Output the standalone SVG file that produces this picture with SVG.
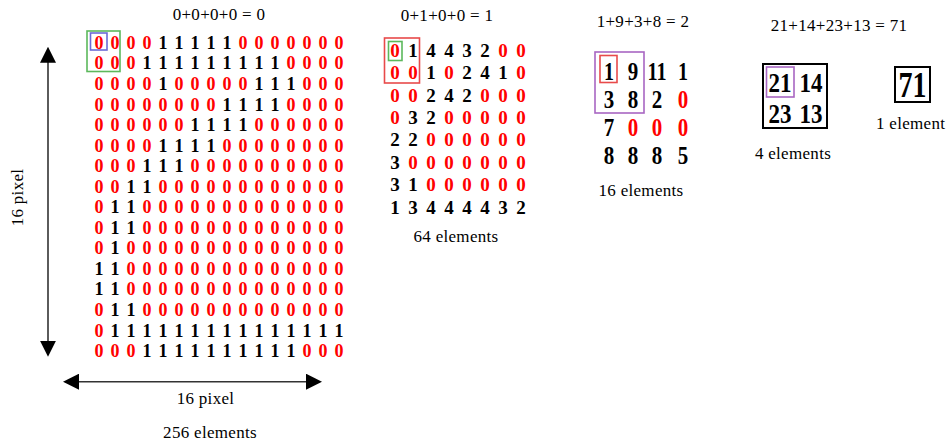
<svg xmlns="http://www.w3.org/2000/svg" width="947" height="444" viewBox="0 0 947 444">
<style>
text{font-family:"Liberation Serif","Times New Roman",serif}
.lbl{font-size:17px;fill:#000;text-anchor:middle;letter-spacing:0.3px}
.d16{font-size:18px;font-weight:bold;text-anchor:middle}
.d8{font-size:19px;font-weight:bold;text-anchor:middle}
.d4{font-size:25px;font-weight:bold;text-anchor:middle}
.d2{font-size:27px;font-weight:bold;text-anchor:middle}
.z{fill:#ff0000}
.o{fill:#000}
.box{fill:none;stroke-width:1.6}
.blue{stroke:#6b6bd6}
.green{stroke:#5cb85c}
.red{stroke:#e84a4a}
.purple{stroke:#a866c2}
.blk{fill:none;stroke:#000;stroke-width:2}
.arr{stroke:#333;stroke-width:1.6;fill:none}
</style>
<defs>
<marker id="ah" viewBox="0 0 16 16" refX="14" refY="8" markerWidth="16" markerHeight="16" markerUnits="userSpaceOnUse" orient="auto-start-reverse">
<path d="M0,0 L16,8 L0,16 z" fill="#000"/>
</marker>
</defs>

<g id="connectors">
<line class="arr" x1="48" y1="48.7" x2="48" y2="354.7" marker-start="url(#ah)" marker-end="url(#ah)"/>
<line class="arr" x1="65" y1="381.7" x2="320" y2="381.7" marker-start="url(#ah)" marker-end="url(#ah)"/>
</g>

<g id="labels16">
<text class="lbl" x="219" y="20">0+0+0+0 = 0</text>
<text class="lbl" transform="translate(23,197.5) rotate(-90)" x="0" y="0">16 pixel</text>
<text class="lbl" x="205.5" y="404">16 pixel</text>
<text class="lbl" x="210" y="438">256 elements</text>
</g>

<g id="grid16">
<rect class="box green" x="87" y="31" width="33" height="40.5"/>
<rect class="box blue" x="90.5" y="33" width="16.5" height="17"/>
<text class="d16" y="48.8"><tspan class="z" x="99 115 131 147">0000</tspan><tspan class="o" x="163 179 195 211 227">11111</tspan><tspan class="z" x="243 259 275 291 307 323 339">0000000</tspan></text>
<text class="d16" y="69.4"><tspan class="z" x="99 115 131">000</tspan><tspan class="o" x="147 163 179 195 211 227 243 259 275">111111111</tspan><tspan class="z" x="291 307 323 339">0000</tspan></text>
<text class="d16" y="89.9"><tspan class="z" x="99 115 131 147">0000</tspan><tspan class="o" x="163">1</tspan><tspan class="z" x="179 195 211 227 243">00000</tspan><tspan class="o" x="259 275 291">111</tspan><tspan class="z" x="307 323 339">000</tspan></text>
<text class="d16" y="110.5"><tspan class="z" x="99 115 131 147 163 179 195 211">00000000</tspan><tspan class="o" x="227 243 259 275">1111</tspan><tspan class="z" x="291 307 323 339">0000</tspan></text>
<text class="d16" y="131"><tspan class="z" x="99 115 131 147 163 179">000000</tspan><tspan class="o" x="195 211 227 243">1111</tspan><tspan class="z" x="259 275 291 307 323 339">000000</tspan></text>
<text class="d16" y="151.6"><tspan class="z" x="99 115 131 147">0000</tspan><tspan class="o" x="163 179 195 211">1111</tspan><tspan class="z" x="227 243 259 275 291 307 323 339">00000000</tspan></text>
<text class="d16" y="172.1"><tspan class="z" x="99 115 131">000</tspan><tspan class="o" x="147 163 179">111</tspan><tspan class="z" x="195 211 227 243 259 275 291 307 323 339">0000000000</tspan></text>
<text class="d16" y="192.7"><tspan class="z" x="99 115">00</tspan><tspan class="o" x="131 147">11</tspan><tspan class="z" x="163 179 195 211 227 243 259 275 291 307 323 339">000000000000</tspan></text>
<text class="d16" y="213.2"><tspan class="z" x="99">0</tspan><tspan class="o" x="115 131">11</tspan><tspan class="z" x="147 163 179 195 211 227 243 259 275 291 307 323 339">0000000000000</tspan></text>
<text class="d16" y="233.8"><tspan class="z" x="99">0</tspan><tspan class="o" x="115 131">11</tspan><tspan class="z" x="147 163 179 195 211 227 243 259 275 291 307 323 339">0000000000000</tspan></text>
<text class="d16" y="254.3"><tspan class="z" x="99">0</tspan><tspan class="o" x="115">1</tspan><tspan class="z" x="131 147 163 179 195 211 227 243 259 275 291 307 323 339">00000000000000</tspan></text>
<text class="d16" y="274.9"><tspan class="o" x="99 115">11</tspan><tspan class="z" x="131 147 163 179 195 211 227 243 259 275 291 307 323 339">00000000000000</tspan></text>
<text class="d16" y="295.4"><tspan class="o" x="99 115">11</tspan><tspan class="z" x="131 147 163 179 195 211 227 243 259 275 291 307 323 339">00000000000000</tspan></text>
<text class="d16" y="316"><tspan class="z" x="99">0</tspan><tspan class="o" x="115 131">11</tspan><tspan class="z" x="147 163 179 195 211 227 243 259 275 291 307 323 339">0000000000000</tspan></text>
<text class="d16" y="336.5"><tspan class="z" x="99">0</tspan><tspan class="o" x="115 131 147 163 179 195 211 227 243 259 275 291 307 323 339">111111111111111</tspan></text>
<text class="d16" y="357.1"><tspan class="z" x="99 115 131">000</tspan><tspan class="o" x="147 163 179 195 211 227 243 259 275 291">1111111111</tspan><tspan class="z" x="307 323 339">000</tspan></text>
</g>

<g id="grid8">
<text class="lbl" x="447" y="21">0+1+0+0 = 1</text>
<rect class="box red" x="384.5" y="38" width="35" height="45"/>
<rect class="box green" x="388.5" y="41.5" width="13.5" height="19"/>
<text class="d8" y="56.8"><tspan class="z" x="395">0</tspan><tspan class="o" x="413 431 449 467 485">14432</tspan><tspan class="z" x="503 521">00</tspan></text>
<text class="d8" y="79.2"><tspan class="z" x="395 413">00</tspan><tspan class="o" x="431">1</tspan><tspan class="z" x="449">0</tspan><tspan class="o" x="467 485 503">241</tspan><tspan class="z" x="521">0</tspan></text>
<text class="d8" y="101.6"><tspan class="z" x="395 413">00</tspan><tspan class="o" x="431 449 467">242</tspan><tspan class="z" x="485 503 521">000</tspan></text>
<text class="d8" y="124"><tspan class="z" x="395">0</tspan><tspan class="o" x="413 431">32</tspan><tspan class="z" x="449 467 485 503 521">00000</tspan></text>
<text class="d8" y="146.4"><tspan class="o" x="395 413">22</tspan><tspan class="z" x="431 449 467 485 503 521">000000</tspan></text>
<text class="d8" y="168.8"><tspan class="o" x="395">3</tspan><tspan class="z" x="413 431 449 467 485 503 521">0000000</tspan></text>
<text class="d8" y="191.2"><tspan class="o" x="395 413">31</tspan><tspan class="z" x="431 449 467 485 503 521">000000</tspan></text>
<text class="d8" y="213.6"><tspan class="o" x="395 413 431 449 467 485 503 521">13444432</tspan></text>
<text class="lbl" x="456" y="242">64 elements</text>
</g>

<g id="grid4">
<text class="lbl" x="643" y="27">1+9+3+8 = 2</text>
<rect class="box purple" x="595" y="52" width="49" height="61"/>
<rect class="box red" x="600" y="55.5" width="17" height="27"/>
<text class="d4 o" x="609" y="79.5" textLength="10" lengthAdjust="spacingAndGlyphs">1</text>
<text class="d4 o" x="633" y="79.5" textLength="10.5" lengthAdjust="spacingAndGlyphs">9</text>
<text class="d4 o" x="657" y="79.5" textLength="19" lengthAdjust="spacingAndGlyphs">11</text>
<text class="d4 o" x="683" y="79.5" textLength="10" lengthAdjust="spacingAndGlyphs">1</text>
<text class="d4 o" x="609" y="107.5" textLength="10.5" lengthAdjust="spacingAndGlyphs">3</text>
<text class="d4 o" x="633" y="107.5" textLength="10.5" lengthAdjust="spacingAndGlyphs">8</text>
<text class="d4 o" x="657" y="107.5" textLength="10.5" lengthAdjust="spacingAndGlyphs">2</text>
<text class="d4 z" x="683" y="107.5" textLength="10.5" lengthAdjust="spacingAndGlyphs">0</text>
<text class="d4 o" x="609" y="135.5" textLength="10.5" lengthAdjust="spacingAndGlyphs">7</text>
<text class="d4 z" x="633" y="135.5" textLength="10.5" lengthAdjust="spacingAndGlyphs">0</text>
<text class="d4 z" x="657" y="135.5" textLength="10.5" lengthAdjust="spacingAndGlyphs">0</text>
<text class="d4 z" x="683" y="135.5" textLength="10.5" lengthAdjust="spacingAndGlyphs">0</text>
<text class="d4 o" x="609" y="163.5" textLength="10.5" lengthAdjust="spacingAndGlyphs">8</text>
<text class="d4 o" x="633" y="163.5" textLength="10.5" lengthAdjust="spacingAndGlyphs">8</text>
<text class="d4 o" x="657" y="163.5" textLength="10.5" lengthAdjust="spacingAndGlyphs">8</text>
<text class="d4 o" x="683" y="163.5" textLength="10.5" lengthAdjust="spacingAndGlyphs">5</text>
<text class="lbl" x="641" y="196">16 elements</text>
</g>

<g id="grid2">
<text class="lbl" x="839" y="31">21+14+23+13 = 71</text>
<rect class="blk" x="763" y="64" width="64" height="64"/>
<rect class="box purple" x="766.5" y="67" width="27.5" height="30"/>
<text class="d2 o" x="780" y="92" textLength="23" lengthAdjust="spacingAndGlyphs">21</text>
<text class="d2 o" x="811" y="92" textLength="23" lengthAdjust="spacingAndGlyphs">14</text>
<text class="d2 o" x="780" y="122.5" textLength="23" lengthAdjust="spacingAndGlyphs">23</text>
<text class="d2 o" x="811" y="122.5" textLength="23" lengthAdjust="spacingAndGlyphs">13</text>
<text class="lbl" x="793" y="159">4 elements</text>
</g>

<g id="grid1">
<rect class="blk" x="895" y="67" width="35" height="35"/>
<text class="d2 o" x="912.5" y="96.7" style="font-size:36px" textLength="28" lengthAdjust="spacingAndGlyphs">71</text>
<text class="lbl" x="876" y="129" style="text-anchor:start">1 element</text>
</g>
</svg>
